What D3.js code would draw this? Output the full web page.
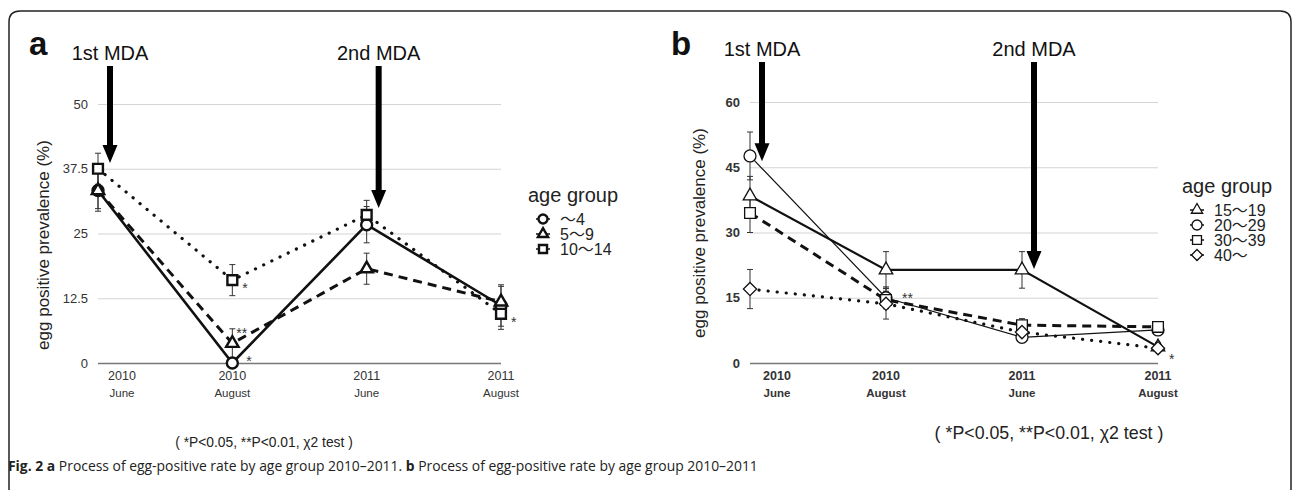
<!DOCTYPE html>
<meta charset="utf-8">
<style>
  html, body { margin: 0; padding: 0; background: #fff; overflow: hidden; }
  svg { display: block; }
  text { font-family: "Liberation Sans", Arial, "Noto Sans CJK JP", sans-serif; fill: #222; }
  .tick text { fill: #333; font-size: 13px; }
  .cap { font-family: "Open Sans", "Noto Sans", sans-serif; fill: #222; }
</style>
<svg></svg>
<script src="https://cdn.jsdelivr.net/npm/d3@7"></script>
<script>

// ---- data ----
var periods = ["2010 June", "2010 August", "2011 June", "2011 August"];
var years = ["2010", "2010", "2011", "2011"];
var months = ["June", "August", "June", "August"];

// panel a
var groupsA = ["〜4", "5〜9", "10〜14"];
var a_4 = [33.3, 0, 26.7, 11.1];
var a_4_err = [4.0, 0, 3.5, 4.0];
var a_5to9 = [33.3, 3.8, 18.2, 11.8];
var a_5to9_err = [3.5, 2.8, 3.0, 3.0];
var a_10to14 = [37.5, 16.0, 28.6, 9.5];
var a_10to14_err = [3.0, 3.0, 2.8, 3.0];
var ticksA = [0, 12.5, 25, 37.5, 50];

// panel b
var groupsB = ["15〜19", "20〜29", "30〜39", "40〜"];
var b_15to19 = [38.4, 21.4, 21.4, 3.7];
var b_15to19_err = [4.5, 4.2, 4.2, 1.0];
var b_20to29 = [47.6, 15.0, 5.9, 7.6];
var b_20to29_err = [5.5, 2.5, 1.0, 1.0];
var b_30to39 = [34.5, 14.5, 8.7, 8.3];
var b_30to39_err = [4.5, 2.0, 1.5, 1.0];
var b_40 = [17.0, 13.6, 7.1, 3.4];
var b_40_err = [4.5, 3.5, 1.5, 1.0];
var ticksB = [0, 15, 30, 45, 60];

// MDA arrows: period index and value where the tip lands
var mdaLabels = ["1st MDA", "2nd MDA"];
var mdaPeriodA = [0, 2], mdaTipA = [38.6, 29.9];
var mdaPeriodB = [0, 2], mdaTipB = [46.4, 21.6];

// significance marks: [series index, period index, label]
var starsA = [[2, 1, "*"], [1, 1, "**"], [0, 1, "*"], [2, 3, "*"]];
var starsB = [[1, 1, "**"], [0, 3, "*"]];

var W = 1292, H = 493;
var svg = d3.select("svg").attr("width", W).attr("height", H);

// frame
svg.append("path")
    .attr("d", "M9,490 L9,22 Q9,11 20,11 L1280,11 Q1291,11 1291,22 L1291,490")
    .attr("fill", "none").attr("stroke", "#222").attr("stroke-width", 1.5);

function shapePath(shape, s) {
  if (shape == "circle") return d3.symbol().type(d3.symbolCircle).size(Math.PI * s * s / 4)();
  if (shape == "square") return d3.symbol().type(d3.symbolSquare).size(s * s * 0.8)();
  if (shape == "triangle") return d3.symbol().type(d3.symbolTriangle).size(s * s * 0.55)();
  var r = s * 0.55;
  return "M0," + (-r) + "L" + r + ",0L0," + r + "L" + (-r) + ",0Z";
}

function drawPanel(cfg) {
  var x = d3.scalePoint().domain(periods).range(cfg.xRange);
  var y = d3.scaleLinear().domain(cfg.yDomain).range(cfg.yRange);
  var g = svg.append("g");

  // grid + tick labels
  var yAxis = g.append("g")
      .attr("transform", "translate(" + cfg.xRange[0] + ",0)")
      .call(d3.axisLeft(y).tickValues(cfg.ticks).tickSize(-(cfg.xRange[1] - cfg.xRange[0])).tickPadding(10).tickFormat(d3.format("")));
  yAxis.select(".domain").remove();
  yAxis.selectAll(".tick line").attr("stroke", "#d4d4d4").attr("stroke-width", 1.2);
  yAxis.selectAll(".tick text").style("font-weight", cfg.bold ? "bold" : "normal");
  yAxis.selectAll(".tick").filter(function(d) { return d == 0; }).select("line")
      .attr("stroke", "#777").attr("stroke-width", 1.6);

  // x labels
  periods.forEach(function(p, i) {
    var xx = x(p) + (i == 0 ? cfg.firstShift : 0);
    g.append("text").attr("x", xx).attr("y", 380).attr("text-anchor", "middle")
        .style("font-size", "12.5px").style("font-weight", cfg.bold ? "bold" : "normal").style("fill", "#333")
        .text(years[i]);
    g.append("text").attr("x", xx).attr("y", 397).attr("text-anchor", "middle")
        .style("font-size", "11.5px").style("font-weight", cfg.bold ? "bold" : "normal").style("fill", "#333")
        .text(months[i]);
  });

  // y title
  g.append("text")
      .attr("transform", "translate(" + cfg.titleX + "," + cfg.titleY + ") rotate(-90)")
      .attr("text-anchor", "middle").style("font-size", "17px").style("fill", "#222")
      .text("egg positive prevalence (%)");

  // panel letter
  g.append("text").attr("x", cfg.letterX).attr("y", 55)
      .style("font-size", "33px").style("font-weight", "bold").style("fill", "#111")
      .text(cfg.letter);

  // lines
  var line = d3.line().x(function(d, i) { return x(periods[i]); }).y(function(d) { return y(d); });
  cfg.series.forEach(function(s) {
    g.append("path").datum(s.values).attr("d", line)
        .attr("fill", "none").attr("stroke", "#111").attr("stroke-width", s.width)
        .attr("stroke-dasharray", s.dash).attr("stroke-linecap", s.dotted ? "round" : "butt");
  });

  // error bars
  cfg.series.forEach(function(s) {
    s.values.forEach(function(v, i) {
      var e = s.errors[i];
      if (!e) return;
      var xx = x(periods[i]);
      g.append("line").attr("x1", xx).attr("x2", xx).attr("y1", y(v - e)).attr("y2", y(v + e))
          .attr("stroke", "#333").attr("stroke-width", 1);
      [v - e, v + e].forEach(function(t) {
        g.append("line").attr("x1", xx - 3).attr("x2", xx + 3).attr("y1", y(t)).attr("y2", y(t))
            .attr("stroke", "#333").attr("stroke-width", 1);
      });
    });
  });

  // markers
  cfg.series.forEach(function(s) {
    g.selectAll(null).data(s.values).enter().append("path")
        .attr("d", shapePath(s.shape, cfg.markerSize))
        .attr("transform", function(d, i) { return "translate(" + x(periods[i]) + "," + y(d) + ")"; })
        .attr("fill", "#fff").attr("stroke", "#111").attr("stroke-width", cfg.markerStroke);
  });

  // significance stars
  cfg.stars.forEach(function(st, k) {
    var s = cfg.series[st[0]], off = cfg.starOffsets[k];
    g.append("text").attr("x", x(periods[st[1]]) + off[0]).attr("y", y(s.values[st[1]]) + off[1])
        .style("font-size", "14px").style("fill", "#333").text(st[2]);
  });

  // MDA arrows
  cfg.mdaPeriod.forEach(function(pi, k) {
    var ax = x(periods[pi]) + 12, top = cfg.arrowTop, tip = y(cfg.mdaTip[k]);
    g.append("text").attr("x", ax).attr("y", cfg.arrowTop - 6).attr("text-anchor", "middle")
        .style("font-size", "20px").style("fill", "#111").text(mdaLabels[k]);
    g.append("rect").attr("x", ax - 3).attr("y", top).attr("width", 6).attr("height", tip - top - 16).attr("fill", "#000");
    g.append("path").attr("d", "M" + (ax - 7.5) + "," + (tip - 18) + "L" + (ax + 7.5) + "," + (tip - 18) + "L" + ax + "," + tip + "Z")
        .attr("fill", "#000");
  });

  // legend
  var lg = g.append("g").attr("transform", "translate(" + cfg.legendX + "," + cfg.legendY + ")");
  lg.append("text").attr("x", 0).attr("y", 0).style("font-size", "20px").style("fill", "#222").text("age group");
  cfg.groups.forEach(function(name, i) {
    var yy = 17 + i * cfg.legendStep;
    lg.append("line").attr("x1", 8).attr("x2", 22).attr("y1", yy).attr("y2", yy)
        .attr("stroke", "#111").attr("stroke-width", 1.5);
    lg.append("path").attr("d", shapePath(cfg.series[i].shape, cfg.legendMarker))
        .attr("transform", "translate(15," + yy + ")")
        .attr("fill", "#fff").attr("stroke", "#111").attr("stroke-width", cfg.markerStroke);
    lg.append("text").attr("x", 32).attr("y", yy + 6).style("font-size", "16px").style("fill", "#222").text(name);
  });

  // footnote
  g.append("text").attr("x", cfg.noteX).attr("y", cfg.noteY).attr("text-anchor", "middle")
      .style("font-size", cfg.noteSize).style("fill", "#222")
      .text("( *P<0.05, **P<0.01, χ2 test )");
}

drawPanel({
  letter: "a", letterX: 29, xRange: [98, 501], yDomain: [0, 50], yRange: [363, 104], ticks: ticksA,
  bold: false, firstShift: 24, titleX: 49, titleY: 245,
  groups: groupsA, legendX: 528, legendY: 202, legendStep: 15,
  markerSize: 11, markerStroke: 2.4, legendMarker: 9,
  series: [
    {values: a_4, errors: a_4_err, shape: "circle", dash: null, width: 2.6},
    {values: a_5to9, errors: a_5to9_err, shape: "triangle", dash: "9,6", width: 3},
    {values: a_10to14, errors: a_10to14_err, shape: "square", dash: "0.1,9", width: 3.2, dotted: true}
  ],
  stars: starsA, starOffsets: [[10, 13], [4, -5], [14, 3], [10, 13]],
  mdaPeriod: mdaPeriodA, mdaTip: mdaTipA, arrowTop: 66,
  noteX: 264, noteY: 447, noteSize: "13.8px"
});

drawPanel({
  letter: "b", letterX: 671, xRange: [750, 1158], yDomain: [0, 60], yRange: [363, 102], ticks: ticksB,
  bold: true, firstShift: 27, titleX: 705, titleY: 233,
  groups: groupsB, legendX: 1182, legendY: 193, legendStep: 15,
  markerSize: 12, markerStroke: 1.3, legendMarker: 10,
  series: [
    {values: b_15to19, errors: b_15to19_err, shape: "triangle", dash: null, width: 2.2},
    {values: b_20to29, errors: b_20to29_err, shape: "circle", dash: null, width: 1.2},
    {values: b_30to39, errors: b_30to39_err, shape: "square", dash: "9,6", width: 3},
    {values: b_40, errors: b_40_err, shape: "diamond", dash: "0.1,9", width: 3.2, dotted: true}
  ],
  stars: starsB, starOffsets: [[16, 5], [11, 17]],
  mdaPeriod: mdaPeriodB, mdaTip: mdaTipB, arrowTop: 62,
  noteX: 1049, noteY: 439, noteSize: "17.8px"
});

// caption
var cap = svg.append("text").attr("class", "cap").attr("x", 8).attr("y", 471).style("font-size", "13.9px");
cap.append("tspan").style("font-weight", "bold").text("Fig. 2 a");
cap.append("tspan").text(" Process of egg-positive rate by age group 2010–2011. ");
cap.append("tspan").style("font-weight", "bold").text("b");
cap.append("tspan").text(" Process of egg-positive rate by age group 2010–2011");

</script>
